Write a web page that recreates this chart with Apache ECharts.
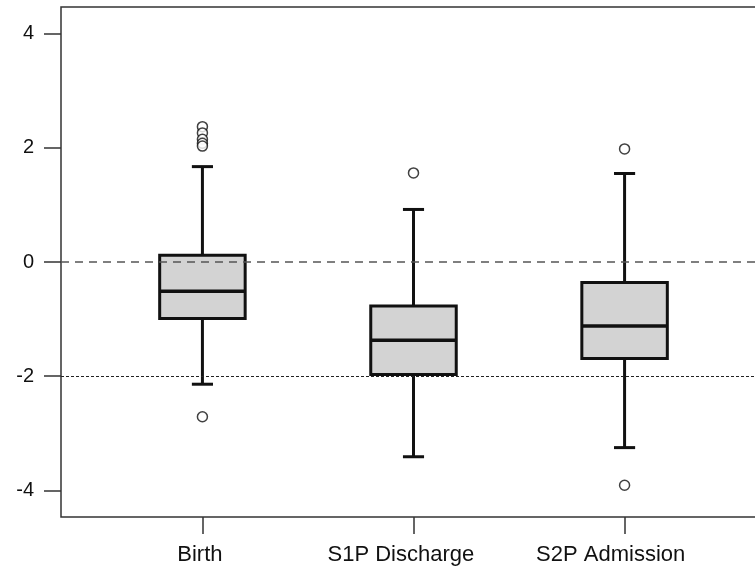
<!DOCTYPE html>
<html>
<head>
<meta charset="utf-8">
<script src="https://cdn.jsdelivr.net/npm/echarts@6/dist/echarts.min.js"></script>
<style>
  html, body { margin: 0; padding: 0; background: #fff; }
  #main { width: 755px; height: 570px; }
</style>
</head>
<body>
<div id="main"></div>
<script>
// groups on the x axis (positions 1, 2, 3)
var categories = ['Birth', 'S1P Discharge', 'S2P Admission'];
var positions = [1, 2, 3];

// box stats per group: lower whisker, Q1, median, Q3, upper whisker
var lowerWhisker = [-2.14, -3.41, -3.25];
var q1 = [-0.99, -1.97, -1.69];
var median = [-0.51, -1.37, -1.12];
var q3 = [0.12, -0.77, -0.36];
var upperWhisker = [1.67, 0.92, 1.55];

// outliers: group position + value
var outlierGroup = [1, 1, 1, 1, 1, 1, 2, 3, 3];
var outlierValue = [2.37, 2.26, 2.15, 2.08, 2.03, -2.71, 1.56, 1.98, -3.91];

// reference lines
var refDashed = 0;
var refDotted = -2;
var yTicks = [-4, -2, 0, 2, 4];

var boxData = positions.map(function (p, i) {
  return [p, lowerWhisker[i], q1[i], median[i], q3[i], upperWhisker[i]];
});
var outlierData = outlierGroup.map(function (g, i) {
  return [g, outlierValue[i]];
});

// in the original the tick labels sit a bit left of their ticks
var labelNudge = [-0.012, -0.06, -0.066];
var labelValues = positions.map(function (p, i) { return p + labelNudge[i]; });

var ink = '#111';

function renderBox(params, api) {
  var x = api.value(0);
  var lo = api.coord([x, api.value(1)]);
  var b1 = api.coord([x, api.value(2)]);
  var md = api.coord([x, api.value(3)]);
  var b3 = api.coord([x, api.value(4)]);
  var hi = api.coord([x, api.value(5)]);
  var boxW = api.size([0.405, 0])[0];
  var capW = api.size([0.1, 0])[0];
  var cx = lo[0];
  var lineStyle = { stroke: ink, lineWidth: 3, fill: null };
  return {
    type: 'group',
    children: [
      { type: 'line', shape: { x1: cx, y1: b3[1], x2: cx, y2: hi[1] }, style: lineStyle },
      { type: 'line', shape: { x1: cx, y1: b1[1], x2: cx, y2: lo[1] }, style: lineStyle },
      { type: 'line', shape: { x1: cx - capW / 2, y1: hi[1], x2: cx + capW / 2, y2: hi[1] }, style: lineStyle },
      { type: 'line', shape: { x1: cx - capW / 2, y1: lo[1], x2: cx + capW / 2, y2: lo[1] }, style: lineStyle },
      {
        type: 'rect',
        shape: { x: cx - boxW / 2, y: b3[1], width: boxW, height: b1[1] - b3[1] },
        style: { fill: '#d3d3d3', stroke: ink, lineWidth: 3 }
      },
      { type: 'line', shape: { x1: cx - boxW / 2, y1: md[1], x2: cx + boxW / 2, y2: md[1] }, style: { stroke: ink, lineWidth: 3.5 } }
    ]
  };
}

var chart = echarts.init(document.getElementById('main'), null, { renderer: 'canvas' });

var option = {
  backgroundColor: '#fff',
  animation: false,
  grid: {
    left: 61,
    top: 7,
    width: 705,
    height: 510,
    outerBoundsMode: 'none',
    containLabel: false,
    show: true,
    borderColor: '#333',
    borderWidth: 1.5,
    backgroundColor: 'transparent'
  },
  xAxis: {
    type: 'value',
    min: 0.33,
    max: 3.67,
    axisLine: { show: false, onZero: false },
    splitLine: { show: false },
    axisTick: {
      show: true,
      inside: false,
      length: 17,
      customValues: positions,
      lineStyle: { color: '#333', width: 1.5 }
    },
    axisLabel: {
      customValues: labelValues,
      margin: 27,
      fontSize: 22,
      fontFamily: 'Liberation Sans',
      color: ink,
      formatter: function (v) {
        return categories[positions.indexOf(Math.round(v))] || '';
      }
    }
  },
  yAxis: {
    type: 'value',
    min: -4.465,
    max: 4.465,
    axisLine: { show: false, onZero: false },
    splitLine: { show: false },
    axisTick: {
      show: true,
      length: 17,
      customValues: yTicks,
      lineStyle: { color: '#333', width: 1.5 }
    },
    axisLabel: {
      customValues: yTicks,
      margin: 27,
      fontSize: 20,
      fontFamily: 'Liberation Sans',
      color: ink
    }
  },
  series: [
    {
      type: 'custom',
      z: 2,
      renderItem: renderBox,
      data: boxData,
      encode: { x: 0, y: [1, 2, 3, 4, 5] },
      silent: true
    },
    {
      type: 'scatter',
      z: 3,
      data: outlierData,
      symbol: 'circle',
      symbolSize: 10,
      itemStyle: { color: '#fff', borderColor: ink, borderWidth: 1.5 },
      silent: true
    },
    {
      type: 'line',
      data: [],
      silent: true,
      markLine: {
        silent: true,
        symbol: 'none',
        label: { show: false },
        animation: false,
        data: [
          { yAxis: refDashed, lineStyle: { color: '#555', width: 1.5, type: [8, 6] } },
          { yAxis: refDotted, lineStyle: { color: '#222', width: 1.2, type: [3, 2] } }
        ]
      }
    }
  ]
};

chart.setOption(option);
</script>
</body>
</html>
